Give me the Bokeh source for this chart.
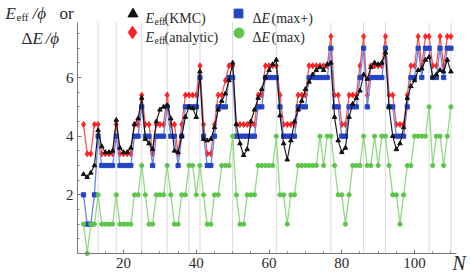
from bokeh.plotting import figure
from bokeh.models import Label, Legend, LegendItem, FixedTicker, Range1d, LinearAxis
from bokeh.embed import file_html
from bokeh.resources import INLINE

# ---------------- data ----------------
N = list(range(9, 111))

E_kmc = [2.7, 2.6, 2.75, 3.0, 4.2, 3.65, 3.45, 3.45, 3.5, 4.55,
         3.6, 3.45, 3.45, 3.6, 4.4, 4.6, 5.3, 3.9, 3.75, 3.55,
         4.5, 4.9, 5.0, 5.05, 4.6, 3.5, 3.45, 4.0, 4.65, 5.0,
         4.95, 4.65, 6.2, 3.9, 3.85, 3.9, 4.3, 4.9, 5.2, 5.45,
         5.9, 6.5, 4.4, 3.75, 3.35, 3.55, 4.5, 4.9, 5.3, 5.6,
         6.0, 6.25, 6.45, 6.6, 4.7, 3.75, 3.2, 3.85, 4.5, 4.9,
         5.2, 5.6, 5.85, 6.1, 6.25, 6.35, 6.25, 6.45, 6.5, 4.65,
         3.85, 3.45, 3.6, 4.65, 5.1, 5.3, 5.55, 6.1, 5.95, 6.35,
         6.5, 6.45, 6.5, 6.85, 5.0, 4.0, 3.55, 3.75, 4.3, 5.3,
         5.7, 5.9, 6.25, 6.3, 6.6, 6.7, 6.0, 6.1, 6.25, 6.2,
         6.6, 6.2]

E_analytic = [4.4, 3.4, 3.4, 4.4, 4.4, 3.4, 3.4, 3.4, 3.4, 4.4,
              3.4, 3.4, 3.4, 3.4, 4.4, 4.4, 5.4, 4.4, 4.4, 3.4,
              4.4, 4.4, 4.4, 5.4, 4.4, 4.4, 3.4, 4.4, 5.4, 5.4,
              5.4, 5.4, 6.4, 4.4, 3.4, 3.4, 4.4, 5.4, 5.4, 5.9,
              6.4, 6.4, 4.4, 4.4, 4.4, 4.4, 4.4, 4.4, 5.4, 5.4,
              6.4, 6.4, 6.4, 6.4, 5.4, 4.4, 4.4, 4.4, 4.4, 5.4,
              5.4, 5.4, 6.4, 6.4, 6.4, 6.4, 6.4, 6.4, 7.4, 5.4,
              5.4, 4.4, 4.4, 5.4, 5.4, 5.4, 6.4, 7.4, 5.4, 6.4,
              6.4, 6.4, 6.4, 7.4, 5.4, 5.4, 4.4, 4.4, 4.4, 5.4,
              6.4, 6.4, 7.4, 6.4, 7.4, 7.4, 6.4, 6.4, 7.4, 6.4,
              7.4, 7.4]

dE_maxplus = [2, 1, 1, 2, 4, 3, 3, 3, 3, 4,
              3, 3, 3, 3, 4, 4, 5, 4, 4, 3,
              4, 4, 4, 5, 4, 4, 3, 4, 5, 5,
              5, 5, 6, 4, 3, 3, 4, 5, 5, 5,
              6, 6, 4, 4, 4, 4, 4, 4, 5, 5,
              6, 6, 6, 6, 5, 4, 4, 4, 4, 5,
              5, 5, 6, 6, 6, 6, 6, 6, 7, 5,
              5, 4, 4, 5, 5, 5, 6, 7, 5, 6,
              6, 6, 6, 7, 5, 5, 4, 4, 4, 5,
              6, 6, 7, 6, 7, 7, 6, 6, 7, 6,
              7, 7]

dE_max = [1, 0, 1, 1, 2, 1, 1, 1, 1, 2,
          1, 1, 1, 1, 2, 2, 3, 2, 1, 1,
          2, 2, 2, 3, 2, 1, 1, 2, 2, 3,
          3, 2, 3, 2, 1, 1, 2, 2, 3, 3,
          3, 4, 2, 1, 1, 2, 2, 2, 3, 3,
          3, 3, 3, 4, 2, 2, 1, 2, 2, 3,
          3, 3, 3, 3, 3, 4, 3, 4, 4, 3,
          2, 2, 1, 2, 3, 3, 3, 4, 3, 3,
          4, 3, 4, 4, 3, 2, 2, 1, 2, 3,
          3, 4, 4, 4, 4, 5, 3, 4, 4, 3,
          4, 5]

grid_N = [13, 18, 25, 32, 38, 41, 50, 62, 77, 86, 92, 104, 110]
x_major = [20, 40, 60, 80, 100]
x_minor = list(range(10, 111, 5))
y_major = [2, 4, 6]
y_minor = [0.5 * k for k in range(1, 16)]

# ---------------- layout ----------------
W, H = 471, 274
OX, OY = 77, 253            # canvas position of the axes origin
SX, SY = 3.6375, 29.33      # px per unit
X_ORIGIN = 7.34
X_AXIS_END = 111.6
Y_AXIS_END = 7.88


def dx(px):
    return X_ORIGIN + (px - OX) / SX


def dy(py):
    return (OY - py) / SY


p = figure(width=W, height=H, output_backend="svg", toolbar_location=None,
           x_range=Range1d(dx(0), dx(W)), y_range=Range1d(dy(H), dy(0)),
           x_axis_location=None, y_axis_location=None,
           min_border_left=0, min_border_right=0,
           min_border_top=0, min_border_bottom=0)
p.outline_line_color = None
p.xgrid.visible = False
p.ygrid.visible = False
p.background_fill_color = "white"
p.border_fill_color = "white"

SERIF = "Liberation Serif"
AX = "#7a7a7a"
TXT = "#2a2a2a"
xax = LinearAxis(fixed_location=0, bounds=(X_ORIGIN, X_AXIS_END),
                 ticker=FixedTicker(ticks=x_major, minor_ticks=x_minor))
yax = LinearAxis(fixed_location=X_ORIGIN, bounds=(0, Y_AXIS_END),
                 ticker=FixedTicker(ticks=y_major, minor_ticks=y_minor))
for ax in (xax, yax):
    ax.axis_line_color = AX
    ax.major_tick_line_color = AX
    ax.minor_tick_line_color = AX
    ax.major_tick_in = 4
    ax.major_tick_out = 0
    ax.minor_tick_in = 2
    ax.minor_tick_out = 0
    ax.major_label_text_font = SERIF
    ax.major_label_text_font_size = "15px"
    ax.major_label_text_color = TXT
    ax.major_label_standoff = 4
p.add_layout(xax, "below")
p.add_layout(yax, "left")

# vertical grid lines
p.segment(x0=grid_N, y0=[0] * len(grid_N), x1=grid_N, y1=[Y_AXIS_END] * len(grid_N),
          line_color="#d9d9d9", line_width=1)

# ---------------- series ----------------
RED, RED_L = "#ff2424", "#ff5252"
BLUE, BLUE_L = "#2444c4", "#6a86e4"
GREEN, GREEN_L = "#5cc54a", "#94d884"
BLACK = "#111111"

p.line(N, E_analytic, line_color=RED_L, line_width=1.3)
r_red = p.scatter(N, E_analytic, marker="diamond", size=6,
                  fill_color=RED, line_color=RED)
p.line(N, dE_maxplus, line_color=BLUE_L, line_width=1.3)
r_blue = p.scatter(N, dE_maxplus, marker="square", size=4.2,
                   fill_color=BLUE, line_color=BLUE)
p.line(N, E_kmc, line_color=BLACK, line_width=1.1)
r_black = p.scatter(N, E_kmc, marker="triangle", size=4.5,
                    fill_color=BLACK, line_color=BLACK)
p.line(N, dE_max, line_color=GREEN_L, line_width=1.3)
r_green = p.scatter(N, dE_max, marker="circle", size=4.2,
                    fill_color=GREEN, line_color=GREEN)


# ---------------- legend (markers) ----------------
def add_key(renderer, cx, cy, G):
    leg = Legend(items=[LegendItem(label=" ", renderers=[renderer])],
                 location=(cx - G / 2, H - cy - G / 2),
                 glyph_width=G, glyph_height=G, label_height=G, label_width=1,
                 label_standoff=0, padding=0, margin=0, spacing=0,
                 border_line_alpha=0, background_fill_alpha=0,
                 label_text_font_size="2px", click_policy="none")
    p.add_layout(leg)


add_key(r_black, 132, 13, 25)
add_key(r_red, 132, 32, 32)
add_key(r_blue, 238, 13, 22)
add_key(r_green, 238, 32, 25)


# ---------------- texts ----------------
def lab(text, px, py, size=14, style="normal", color=TXT):
    p.add_layout(Label(x=dx(px), y=dy(py), text=text, text_font=SERIF,
                       text_font_size=f"{size}px", text_font_style=style,
                       text_color=color, text_baseline="alphabetic",
                       text_align="left"))


# legend labels
lab("E", 145, 18, 14, "italic")
lab("eff", 154, 21, 10)
lab("(KMC)", 164, 18, 14)
lab("E", 145, 37, 14, "italic")
lab("eff", 154, 40, 10)
lab("(analytic)", 164, 37, 14)
lab("\u0394", 252, 18, 14)
lab("E", 261, 18, 14, "italic")
lab("(max+)", 271, 18, 14)
lab("\u0394", 252, 37, 14)
lab("E", 261, 37, 14, "italic")
lab("(max)", 271, 37, 14)

# y-axis title
lab("E", 5, 13, 17, "italic")
lab("eff", 16, 16, 11)
lab("/\u03d5", 32, 13, 17, "italic")
lab("or", 59, 13, 17)
lab("\u0394", 21, 38, 17)
lab("E", 32, 38, 17, "italic")
lab("/\u03d5", 45, 38, 17, "italic")

# x-axis title
lab("N", 452, 262, 20, "italic")

open("out.html", "w").write(file_html(p, INLINE))
